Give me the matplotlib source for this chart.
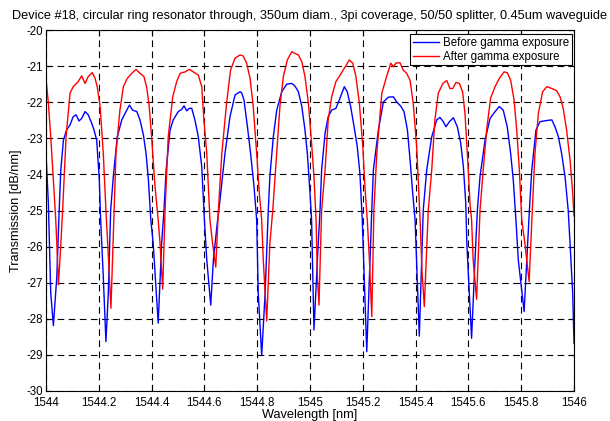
import numpy as np
import matplotlib
matplotlib.use('Agg')
import matplotlib.pyplot as plt

# >>>>>>>>>>>>> data <<<<<<<<<<<<< #

before_wl = [1544.000, 1544.009, 1544.018, 1544.028, 1544.041, 1544.050, 1544.056, 1544.066, 1544.078, 1544.091,
             1544.103, 1544.114, 1544.125, 1544.135, 1544.148, 1544.160, 1544.173, 1544.182, 1544.192, 1544.202,
             1544.207, 1544.217, 1544.227, 1544.236, 1544.245, 1544.255, 1544.270, 1544.287, 1544.303, 1544.316,
             1544.328, 1544.344, 1544.356, 1544.369, 1544.379, 1544.388, 1544.397, 1544.406, 1544.425, 1544.438,
             1544.447, 1544.455, 1544.470, 1544.482, 1544.501, 1544.514, 1544.523, 1544.533, 1544.543, 1544.552,
             1544.564, 1544.577, 1544.590, 1544.600, 1544.609, 1544.624, 1544.634, 1544.648, 1544.659, 1544.678,
             1544.697, 1544.716, 1544.735, 1544.741, 1544.750, 1544.763, 1544.775, 1544.788, 1544.798, 1544.804,
             1544.817, 1544.830, 1544.842, 1544.848, 1544.861, 1544.874, 1544.893, 1544.912, 1544.931, 1544.943,
             1544.956, 1544.969, 1544.981, 1544.990, 1545.000, 1545.006, 1545.015, 1545.028, 1545.038, 1545.044,
             1545.057, 1545.069, 1545.082, 1545.098, 1545.111, 1545.130, 1545.141, 1545.154, 1545.167, 1545.179,
             1545.189, 1545.198, 1545.215, 1545.225, 1545.234, 1545.240, 1545.259, 1545.278, 1545.297, 1545.316,
             1545.328, 1545.344, 1545.356, 1545.369, 1545.379, 1545.389, 1545.398, 1545.414, 1545.429, 1545.442,
             1545.461, 1545.480, 1545.492, 1545.505, 1545.515, 1545.528, 1545.543, 1545.558, 1545.571, 1545.581,
             1545.590, 1545.594, 1545.612, 1545.625, 1545.634, 1545.644, 1545.663, 1545.682, 1545.701, 1545.717,
             1545.732, 1545.747, 1545.760, 1545.770, 1545.780, 1545.789, 1545.811, 1545.821, 1545.831, 1545.840,
             1545.856, 1545.871, 1545.894, 1545.916, 1545.928, 1545.941, 1545.953, 1545.966, 1545.978, 1545.985,
             1545.995, 1546.000]
before_db = [-23.42, -24.80, -27.29, -28.19, -26.83, -24.99, -23.88, -23.05, -22.77, -22.63,
             -22.40, -22.35, -22.52, -22.45, -22.26, -22.35, -22.58, -22.77, -23.05, -24.16,
             -25.26, -26.83, -28.63, -27.29, -24.99, -24.06, -22.96, -22.49, -22.26, -22.08,
             -22.22, -22.26, -22.49, -22.91, -23.42, -24.16, -25.26, -25.91, -28.12, -25.91,
             -24.99, -23.88, -22.77, -22.49, -22.26, -22.20, -22.10, -22.24, -22.17, -22.17,
             -22.49, -22.96, -23.79, -25.26, -26.37, -27.62, -26.37, -25.40, -24.71, -23.42,
             -22.40, -21.80, -21.71, -21.74, -21.94, -22.68, -23.42, -24.34, -25.26, -27.29,
             -29.02, -27.29, -24.99, -24.06, -22.96, -22.22, -21.71, -21.50, -21.48, -21.55,
             -21.71, -22.12, -22.77, -23.42, -24.52, -25.26, -28.31, -26.37, -24.99, -23.88,
             -22.86, -22.40, -22.22, -22.17, -21.94, -21.57, -21.71, -22.12, -22.68, -23.23,
             -23.97, -25.26, -28.91, -26.83, -24.99, -23.88, -22.77, -21.99, -21.86, -21.85,
             -21.99, -22.11, -22.26, -22.77, -23.60, -24.52, -25.26, -28.48, -24.99, -23.88,
             -22.96, -22.49, -22.42, -22.54, -22.68, -22.54, -22.43, -22.68, -23.14, -23.79,
             -24.80, -25.91, -28.54, -26.37, -24.99, -24.06, -23.05, -22.45, -22.26, -22.12,
             -22.22, -22.68, -23.42, -24.16, -25.26, -26.37, -27.80, -26.37, -24.99, -23.88,
             -22.77, -22.54, -22.51, -22.49, -22.68, -22.96, -23.42, -24.06, -24.99, -25.91,
             -27.29, -28.68]

after_wl = [1544.000, 1544.009, 1544.018, 1544.028, 1544.037, 1544.041, 1544.047, 1544.055, 1544.063, 1544.076,
            1544.091, 1544.103, 1544.122, 1544.135, 1544.148, 1544.160, 1544.175, 1544.186, 1544.194, 1544.205,
            1544.217, 1544.227, 1544.237, 1544.246, 1544.258, 1544.265, 1544.280, 1544.293, 1544.308, 1544.325,
            1544.341, 1544.356, 1544.371, 1544.381, 1544.391, 1544.400, 1544.413, 1544.425, 1544.432, 1544.442,
            1544.451, 1544.463, 1544.480, 1544.495, 1544.508, 1544.527, 1544.543, 1544.558, 1544.577, 1544.590,
            1544.598, 1544.609, 1544.621, 1544.631, 1544.643, 1544.653, 1544.666, 1544.684, 1544.699, 1544.716,
            1544.735, 1544.747, 1544.760, 1544.773, 1544.785, 1544.798, 1544.808, 1544.817, 1544.823, 1544.836,
            1544.848, 1544.859, 1544.874, 1544.886, 1544.899, 1544.914, 1544.931, 1544.943, 1544.956, 1544.969,
            1544.981, 1544.994, 1545.006, 1545.015, 1545.023, 1545.028, 1545.034, 1545.044, 1545.057, 1545.069,
            1545.082, 1545.098, 1545.114, 1545.133, 1545.149, 1545.162, 1545.174, 1545.187, 1545.200, 1545.208,
            1545.217, 1545.225, 1545.234, 1545.242, 1545.253, 1545.272, 1545.290, 1545.306, 1545.316, 1545.326,
            1545.341, 1545.353, 1545.366, 1545.379, 1545.391, 1545.404, 1545.417, 1545.424, 1545.433, 1545.448,
            1545.461, 1545.473, 1545.486, 1545.503, 1545.518, 1545.530, 1545.541, 1545.553, 1545.566, 1545.578,
            1545.587, 1545.596, 1545.606, 1545.612, 1545.618, 1545.631, 1545.644, 1545.656, 1545.669, 1545.684,
            1545.701, 1545.717, 1545.735, 1545.747, 1545.760, 1545.773, 1545.783, 1545.793, 1545.802, 1545.814,
            1545.830, 1545.842, 1545.852, 1545.865, 1545.881, 1545.897, 1545.916, 1545.934, 1545.947, 1545.959,
            1545.972, 1545.985, 1545.995, 1546.000]
after_db = [-21.34, -22.03, -22.96, -24.16, -25.26, -25.91, -27.06, -26.09, -24.99, -22.96,
            -21.75, -21.57, -21.43, -21.27, -21.48, -21.29, -21.18, -21.34, -21.57, -22.12,
            -23.42, -24.99, -26.37, -27.71, -24.99, -23.42, -22.22, -21.57, -21.34, -21.20,
            -21.09, -21.20, -21.29, -21.57, -22.12, -22.96, -24.34, -25.26, -25.91, -27.18,
            -24.99, -22.96, -21.85, -21.43, -21.20, -21.16, -21.09, -21.16, -21.25, -21.57,
            -22.49, -23.42, -25.26, -25.91, -26.57, -24.99, -23.42, -22.03, -21.11, -20.78,
            -20.69, -20.72, -20.92, -21.34, -22.12, -23.42, -24.52, -25.26, -26.37, -28.06,
            -25.91, -24.99, -23.42, -22.12, -21.29, -20.83, -20.60, -20.65, -20.69, -20.88,
            -21.29, -22.03, -23.14, -24.06, -25.26, -26.83, -27.62, -24.99, -23.88, -22.49,
            -21.85, -21.43, -21.25, -21.02, -20.83, -20.92, -21.29, -22.03, -23.23, -24.34,
            -25.26, -26.37, -27.94, -24.99, -23.42, -21.75, -21.29, -20.92, -21.02, -20.91,
            -20.91, -21.11, -21.20, -21.39, -22.03, -23.23, -25.26, -26.65, -27.66, -24.99,
            -23.88, -22.49, -21.75, -21.48, -21.40, -21.62, -21.62, -21.45, -21.48, -21.71,
            -22.31, -23.42, -24.80, -25.26, -26.37, -27.46, -24.99, -23.88, -22.77, -21.89,
            -21.57, -21.34, -21.16, -21.18, -21.39, -21.94, -22.77, -23.88, -25.26, -25.91,
            -26.97, -24.99, -23.42, -22.31, -21.71, -21.57, -21.62, -21.68, -21.85, -22.17,
            -22.77, -23.60, -24.52, -25.15]

x_ticks = [1544, 1544.2, 1544.4, 1544.6, 1544.8, 1545, 1545.2, 1545.4, 1545.6, 1545.8, 1546]
x_tick_labels = ['1544', '1544.2', '1544.4', '1544.6', '1544.8', '1545', '1545.2', '1545.4', '1545.6', '1545.8', '1546']
y_ticks = [-30, -29, -28, -27, -26, -25, -24, -23, -22, -21, -20]

# >>>>>>>>>>>>> figure <<<<<<<<<<<<< #

plt.rcParams['font.family'] = ['Liberation Sans', 'DejaVu Sans']
plt.rcParams['axes.unicode_minus'] = False
TickSize = 8.3
LabelSize = 9.2

fig1 = plt.figure(figsize=(6.10, 4.21), dpi=100)
ax1 = fig1.add_axes([0.0754, 0.0713, 0.8656, 0.8574])

ax1.plot(before_wl, before_db, color=(0.0, 0.0, 1.0), linewidth=1.0, label='Before gamma exposure')
ax1.plot(after_wl, after_db, color=(1.0, 0.0, 0.0), linewidth=1.0, label='After gamma exposure')

ax1.set_xlim(1544, 1546)
ax1.set_ylim(-30, -20)
ax1.set_xticks(x_ticks)
ax1.set_xticklabels(x_tick_labels)
ax1.set_yticks(y_ticks)

ax1.tick_params(axis='both', which='major', direction='in', length=4, width=0.8,
                labelsize=TickSize, top=True, right=True)
ax1.tick_params(axis='x', pad=4)
ax1.tick_params(axis='y', pad=2)
ax1.grid(True, color='black', linestyle=(0, (6, 4)), linewidth=0.8)

for sp in ax1.spines.values():
    sp.set_linewidth(0.8)

ax1.set_xlabel('Wavelength [nm]', fontsize=LabelSize, labelpad=0)
ax1.set_ylabel('Transmission [dB/nm]', fontsize=LabelSize, labelpad=3)
ax1.set_title('Device #18, circular ring resonator through, 350um diam., 3pi coverage, 50/50 splitter, 0.45um waveguide',
              fontsize=LabelSize, pad=8)

leg = ax1.legend(loc='upper right', bbox_to_anchor=(0.9955, 0.989), fontsize=TickSize, fancybox=False,
                 edgecolor='black', framealpha=1.0, borderpad=0.25, handlelength=2.3, handletextpad=0.3,
                 labelspacing=0.15, borderaxespad=0.0)
leg.get_frame().set_linewidth(0.8)

fig1.savefig('out.png', dpi=100)
